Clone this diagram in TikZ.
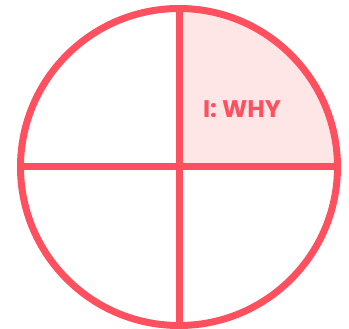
\documentclass[tikz,border=0pt]{standalone}
\usepackage{fontspec}
\setmainfont{Poppins}
\usetikzlibrary{calc}
\definecolor{coralred}{RGB}{255,80,96}
\definecolor{softpink}{RGB}{255,230,230}
\tikzset{
  ring/.style={draw=coralred, line width=7pt},
  quadlabel/.style={font=\fontsize{24}{27}\selectfont\bfseries, text=coralred, inner sep=0pt},
}
\begin{document}
\begin{tikzpicture}[x=1pt,y=1pt]
\useasboundingbox (0,0) rectangle (349,329);
\coordinate (o) at (179,162);
% shaded quadrant
\fill[softpink] (o) -- ++(0,158.5) arc[start angle=90, end angle=0, radius=158.5] -- cycle;
% circle and cross
\draw[ring] (o) circle[radius=158.5];
\draw[ring] ($(o)+(-158.5,0)$) -- ($(o)+(158.5,0)$);
\draw[ring] ($(o)+(0,-158.5)$) -- ($(o)+(0,158.5)$);
\node[quadlabel] (why) at (242,220) {I: WHY};
\end{tikzpicture}
\end{document}
